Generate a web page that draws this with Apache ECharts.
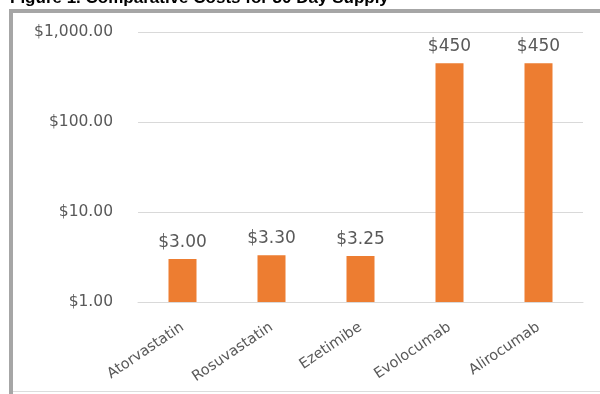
<!DOCTYPE html>
<html>
<head>
<meta charset="utf-8">
<script src="https://cdn.jsdelivr.net/npm/echarts@6/dist/echarts.min.js"></script>
<style>
  html, body { margin: 0; padding: 0; background: #fff; }
  #chart { width: 600px; height: 394px; }
</style>
</head>
<body>
<div id="chart"></div>
<script>
// drug names and 30 day costs
var drugs = ['Atorvastatin', 'Rosuvastatin', 'Ezetimibe', 'Evolocumab', 'Alirocumab'];
var costs = [3.00, 3.30, 3.25, 450, 450];
var costLabels = ['$3.00', '$3.30', '$3.25', '$450', '$450'];
var yTicks = ['$1.00', '$10.00', '$100.00', '$1,000.00'];

var chart = echarts.init(document.getElementById('chart'));

var option = {
    animation: false,
    textStyle: { fontFamily: 'DejaVu Sans' },
    graphic: [
        { type: 'text', left: 10, top: -10, style: {
            text: 'Figure 1. Comparative Costs for 30 Day Supply',
            font: 'bold 17px "Liberation Sans"', fill: '#000'
        } },
        { type: 'rect', shape: { x: 9, y: 9, width: 4, height: 385 }, style: { fill: '#a6a6a6' } },
        { type: 'rect', shape: { x: 9, y: 9, width: 591, height: 4 }, style: { fill: '#a6a6a6' } },
        { type: 'rect', shape: { x: 13, y: 391, width: 587, height: 1 }, style: { fill: '#dcdcdc' } }
    ],
    grid: { left: 138, right: 17, top: 32, bottom: 92 },
    xAxis: {
        type: 'category',
        data: drugs,
        axisLine: { lineStyle: { color: '#d9d9d9' } },
        axisTick: { show: false },
        axisLabel: { rotate: 34, margin: 24, color: '#595959', fontSize: 14.5, interval: 0 }
    },
    yAxis: {
        type: 'log',
        logBase: 10,
        min: 1,
        max: 1000,
        axisLine: { show: false },
        axisTick: { show: false },
        splitLine: { lineStyle: { color: '#d9d9d9' } },
        axisLabel: {
            color: '#595959', fontSize: 15.5, margin: 25,
            formatter: function (v) {
                return yTicks[Math.round(Math.log10(v))];
            }
        }
    },
    series: [
        {
            type: 'bar',
            data: costs,
            barWidth: 28,
            itemStyle: { color: '#ed7d31' },
            label: {
                show: true,
                position: 'top',
                distance: 8,
                color: '#595959',
                fontSize: 17,
                formatter: function (p) { return costLabels[p.dataIndex]; }
            }
        }
    ]
};
chart.setOption(option);
</script>
</body>
</html>
